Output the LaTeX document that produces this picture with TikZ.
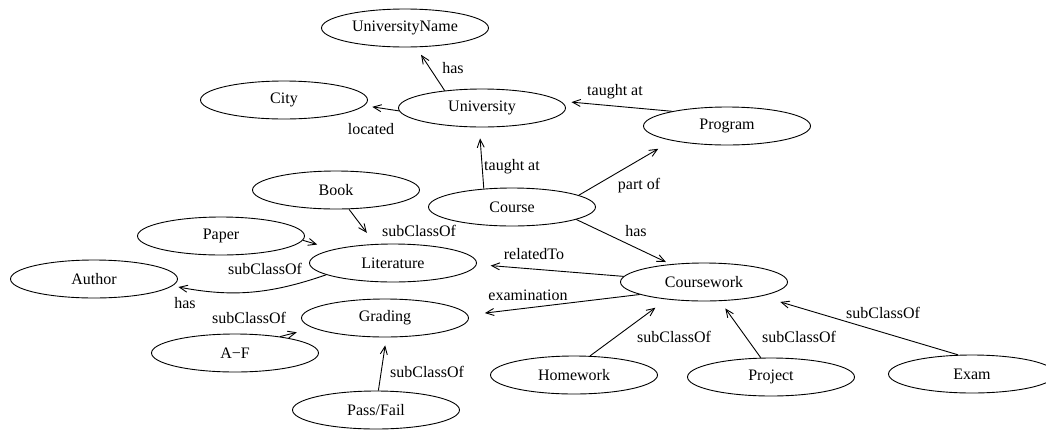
\documentclass[tikz,border=0pt]{standalone}
\usepackage{fontspec}
\setmainfont{Liberation Serif}
\usetikzlibrary{shapes.geometric,arrows.meta}

\begin{document}
\begin{tikzpicture}[
  x=1pt, y=-1pt, line width=0.9pt,
  >={Straight Barb[length=8pt,width=7pt]},
  font=\fontsize{16}{19}\selectfont,
  cls/.style={draw, ellipse, minimum width=167pt, minimum height=38pt, inner sep=0pt},
  lbl/.style={inner sep=1pt}
]
\useasboundingbox (0,0) rectangle (1046,429);
% ---------------- classes ---------------------------------------------------
\node[cls] (uname) at (405,28) {UniversityName};
\node[cls] (city) at (284,100) {City};
\node[cls] (univ) at (482,108) {University};
\node[cls] (program) at (727,126) {Program};
\node[cls] (course) at (512,207) {Course};
\node[cls] (book) at (336,190) {Book};
\node[cls] (paper) at (221,236) {Paper};
\node[cls] (lit) at (393,263) {Literature};
\node[cls] (author) at (94,279) {Author};
\node[cls] (grading) at (385,318) {Grading};
\node[cls] (af) at (235,353) {A\textminus F};
\node[cls] (passfail) at (376,410) {Pass/Fail};
\node[cls] (cwork) at (704,282) {Coursework};
\node[cls] (homework) at (574,375) {Homework};
\node[cls] (project) at (771,377) {Project};
\node[cls] (exam) at (972,374) {Exam};
% ---------------- relations -------------------------------------------------
\draw[->, shorten >=9pt] (univ.155) -- (uname.-60);
\draw[->, shorten >=8pt] (univ.182) -- (city.-4);
\draw[->, shorten >=11pt] (course.147) -- (univ.-98);
\draw[->, shorten >=11pt] (program.165) -- (univ.5);
\draw[->, shorten >=16pt] (course.10) -- (program.195);
\draw[->, shorten >=5pt] (course.-11) -- (cwork.152);
\draw[->, shorten >=14pt] (cwork.176) -- (lit.-1);
\draw[->, shorten >=17pt] (cwork.191) -- (grading.2);
\draw[->, shorten >=14pt] (homework.50) -- (cwork.205);
\draw[->, shorten >=9pt] (project.118) -- (cwork.-50);
\draw[->, shorten >=20pt] (exam.126) -- (cwork.-14);
\draw[->, shorten >=14pt] (book.-56) -- (lit.133);
\draw[->, shorten >=17pt] (paper.-3) -- (lit.167);
\draw[->, shorten >=6pt] (lit.190) to[bend left=15] (author.-5);
\draw[->, shorten >=17pt] (af.20) -- (grading.188);
\draw[->, shorten >=8pt] (passfail.83) -- (grading.-86);
% ---------------- labels ----------------------------------------------------
\node[lbl] (l-has1) at (453,68) {has};
\node[lbl] (l-loc) at (371,129) {located};
\node[lbl] (l-taught1) at (512,167) {taught at};
\node[lbl] (l-taught2) at (615,92) {taught at};
\node[lbl] (l-part) at (639,186) {part of};
\node[lbl] (l-has2) at (636,231) {has};
\node[lbl] (l-rel) at (534,254) {relatedTo};
\node[lbl] (l-exam) at (528,295) {examination};
\node[lbl] (l-sub1) at (674,337) {subClassOf};
\node[lbl] (l-sub2) at (799,337) {subClassOf};
\node[lbl] (l-sub3) at (883,313) {subClassOf};
\node[lbl] (l-sub4) at (419,231) {subClassOf};
\node[lbl] (l-sub5) at (265,269) {subClassOf};
\node[lbl] (l-has3) at (185,303) {has};
\node[lbl] (l-sub6) at (249,318) {subClassOf};
\node[lbl] (l-sub7) at (427,372) {subClassOf};
\end{tikzpicture}
\end{document}
